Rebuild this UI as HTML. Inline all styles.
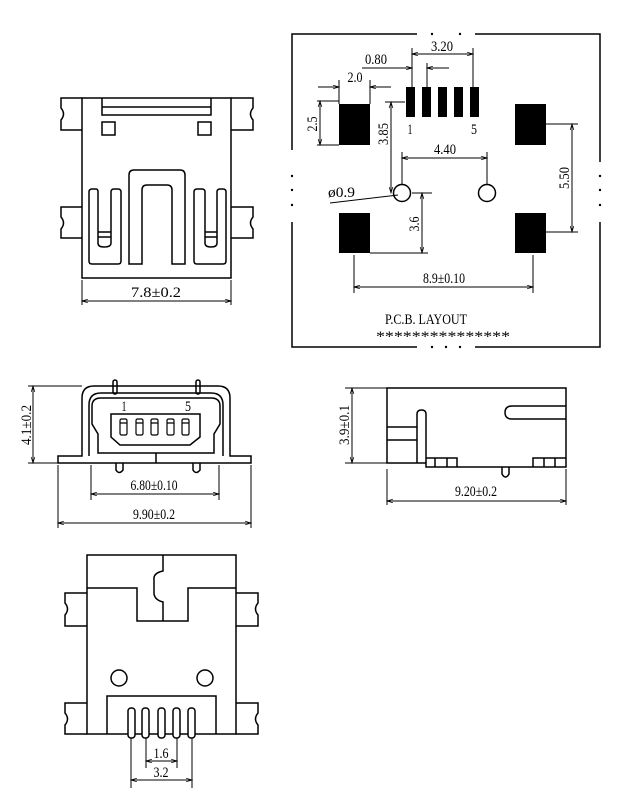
<!DOCTYPE html>
<html><head><meta charset="utf-8"><style>
html,body{margin:0;padding:0;background:#fff;width:618px;height:800px;overflow:hidden}
svg{display:block}
text{font-family:"Liberation Serif",serif;font-size:15px;fill:#000}
</style></head><body>
<svg width="618" height="800" viewBox="0 0 618 800" xmlns="http://www.w3.org/2000/svg">
<defs>
<marker id="a" viewBox="0 0 10 10" refX="10" refY="5" markerWidth="8" markerHeight="6" orient="auto-start-reverse"><path d="M0,2 L10,5 L0,8" fill="none" stroke="#000" stroke-width="1.2"/></marker>
</defs>
<g fill="none" stroke="#000" stroke-width="1.5">
<rect x="82" y="98" width="149" height="180"/>
<path d="M82,98 H61 V108 Q66,114 61,120 V130 H82"/>
<path d="M82,207 H61 V217 Q66,223 61,229 V238 H82"/>
<path d="M231,98 H253 V108 Q248,114 253,120 V130 H231"/>
<path d="M231,207 H253 V217 Q248,223 253,229 V238 H231"/>
<path d="M102,98 V115 H211 V98 M102,107 H211"/>
<rect x="102" y="122" width="13" height="13"/>
<rect x="198" y="122" width="13" height="13"/>
<path d="M129,264 V175 Q129,170 134,170 H180 Q185,170 185,175 V264 H172 V190 Q172,185 167,185 H147 Q142,185 142,190 V264 Z"/>
<path d="M92,264 Q89,264 89,261 V192 Q89,189 92,189 H96 Q98,189 98,192 V243 Q98,247 104,247 Q111,247 111,243 V192 Q111,189 114,189 H118 Q121,189 121,192 V261 Q121,264 118,264 Z"/>
<path d="M98,232 H111 M98,237 H111"/>
<path d="M197,264 Q194,264 194,261 V192 Q194,189 197,189 H202 Q205,189 205,192 V243 Q205,247 211,247 Q217,247 217,243 V192 Q217,189 220,189 H223 Q226,189 226,192 V261 Q226,264 223,264 Z"/>
<path d="M205,232 H217 M205,237 H217"/>
<path d="M82,280 V305 M231,280 V305" stroke-width="1"/>
<line x1="82" y1="301" x2="231" y2="301" stroke-width="1" marker-start="url(#a)" marker-end="url(#a)"/>
<path d="M417,34 H292 V150 M292,222 V347 H417 M475,347 H600 V222 M600,162 V34 H475"/>
</g>
<g fill="#000">
<circle cx="292" cy="176" r="1.2"/><circle cx="292" cy="190" r="1.2"/><circle cx="292" cy="205" r="1.2"/>
<circle cx="600" cy="176" r="1.2"/><circle cx="600" cy="190" r="1.2"/><circle cx="600" cy="205" r="1.2"/>
<circle cx="432" cy="347" r="1.2"/><circle cx="446" cy="347" r="1.2"/><circle cx="460" cy="347" r="1.2"/>
<circle cx="432" cy="34" r="1.2"/><circle cx="460" cy="34" r="1.2"/>
<rect x="339" y="104" width="31" height="41"/>
<rect x="515" y="104" width="31" height="41"/>
<rect x="339" y="213" width="31" height="40"/>
<rect x="515" y="213" width="31" height="40"/>
<rect x="406" y="87" width="9" height="30"/>
<rect x="422" y="87" width="9" height="30"/>
<rect x="438" y="87" width="9" height="30"/>
<rect x="454" y="87" width="9" height="30"/>
<rect x="470" y="87" width="9" height="30"/>
</g>
<g fill="none" stroke="#000" stroke-width="1">
<circle cx="402" cy="193" r="8.5" stroke-width="1.5"/>
<circle cx="487" cy="193" r="8.5" stroke-width="1.5"/>
<path d="M412,48 V87 M473,48 V87 M427,63 V87 M339,80 V104 M370,80 V104 M317,101 H339 M317,145 H339 M385,102 H405 M402,152 V185 M487,152 V185 M370,253 H428 M412,193 H432 M546,124 H578 M546,232 H578 M354,255 V293 M533,255 V293"/>
<line x1="412" y1="54" x2="473" y2="54" marker-start="url(#a)" marker-end="url(#a)"/>
<line x1="362" y1="68" x2="412" y2="68" marker-end="url(#a)"/>
<line x1="449" y1="68" x2="427" y2="68" marker-end="url(#a)"/>
<line x1="318" y1="87" x2="339" y2="87" marker-end="url(#a)"/>
<line x1="391" y1="87" x2="370" y2="87" marker-end="url(#a)"/>
<line x1="320" y1="101" x2="320" y2="145" marker-start="url(#a)" marker-end="url(#a)"/>
<line x1="391" y1="102" x2="391" y2="193" marker-start="url(#a)" marker-end="url(#a)"/>
<line x1="402" y1="158" x2="487" y2="158" marker-start="url(#a)" marker-end="url(#a)"/>
<line x1="330" y1="203" x2="398" y2="195"/>
<line x1="422" y1="193" x2="422" y2="253" marker-start="url(#a)" marker-end="url(#a)"/>
<line x1="572" y1="124" x2="572" y2="232" marker-start="url(#a)" marker-end="url(#a)"/>
<line x1="354" y1="287" x2="533" y2="287" marker-start="url(#a)" marker-end="url(#a)"/>
</g>
<g fill="none" stroke="#000" stroke-width="1.5">
<path d="M88,463 H58 V456 H82 V398 Q82,386 94,386 H218 Q230,386 230,398 V456 H251 V463 H222"/>
<path d="M88,463 H222"/>
<path d="M89,456 V430 L89,405 Q89,393 101,393 H211 Q223,393 223,405 V456"/>
<path d="M98,453 V434 L92,424 V406 Q92,398 101,398 H211 Q220,398 220,406 V424 L214,434 V453 Z"/>
<path d="M156,453 V463"/>
<path d="M111,414 H200 V437 L190,445 H120 L111,437 Z"/>
<rect x="113" y="380" width="4" height="14" rx="2"/>
<rect x="196" y="380" width="4" height="14" rx="2"/>
<path d="M116,463 V470 Q119,475 123,470 V463 M193,463 V470 Q196,475 200,470 V463"/>
</g>
<g fill="none" stroke="#000" stroke-width="1.2">
<rect x="120" y="419" width="7" height="16" rx="1.5"/>
<rect x="136" y="419" width="7" height="16" rx="1.5"/>
<rect x="151" y="419" width="7" height="16" rx="1.5"/>
<rect x="167" y="419" width="7" height="16" rx="1.5"/>
<rect x="182" y="419" width="7" height="16" rx="1.5"/>
<path d="M120,423 H127 M136,423 H143 M151,423 H158 M167,423 H174 M182,423 H189"/>
</g>
<g fill="none" stroke="#000" stroke-width="1">
<path d="M28,386 H82 M28,463 H58 M91,465 V500 M219,465 V500 M58,465 V528 M251,465 V528"/>
<line x1="33" y1="386" x2="33" y2="463" marker-start="url(#a)" marker-end="url(#a)"/>
<line x1="91" y1="494" x2="219" y2="494" marker-start="url(#a)" marker-end="url(#a)"/>
<line x1="58" y1="523" x2="251" y2="523" marker-start="url(#a)" marker-end="url(#a)"/>
</g>
<g fill="none" stroke="#000" stroke-width="1.5">
<path d="M387,463 V388 H566 V467 H426 V463 Z"/>
<path d="M387,427 H417 M387,440 H417"/>
<path d="M417,463 V414 Q417,410 421.5,410 Q426,410 426,414 V463"/>
<path d="M566,406 H512 Q505,406 505,412.5 Q505,419 512,419 H566"/>
<path d="M426,458 H457 V467 M435,458 V467 M447,458 V467"/>
<path d="M533,467 V458 H566 M544,458 V467 M555,458 V467"/>
<path d="M502,467 V474 Q505.5,480 509,474 V467"/>
</g>
<g fill="none" stroke="#000" stroke-width="1">
<path d="M345,388 H387 M345,463 H387 M387,469 V505 M566,469 V505"/>
<line x1="352" y1="388" x2="352" y2="463" marker-start="url(#a)" marker-end="url(#a)"/>
<line x1="387" y1="501" x2="566" y2="501" marker-start="url(#a)" marker-end="url(#a)"/>
</g>
<g fill="none" stroke="#000" stroke-width="1.5">
<rect x="87" y="555" width="149" height="179"/>
<path d="M87,588 H137 V621 H188 V588 H236"/>
<path d="M163,555 V571 Q153,573 154,580 V594 Q155,600 163,602 V621"/>
<path d="M87,593 H65 V603 Q70,609 65,615 V626 H87"/>
<path d="M87,703 H65 V713 Q70,719 65,725 V734 H87"/>
<path d="M236,593 H258 V603 Q253,609 258,615 V626 H236"/>
<path d="M236,703 H258 V713 Q253,719 258,725 V734 H236"/>
<circle cx="119" cy="678" r="8"/>
<circle cx="205" cy="678" r="8"/>
<path d="M107,734 V696 H216 V734"/>
<rect x="128" y="708" width="7" height="30" rx="3" fill="#fff"/>
<rect x="142" y="708" width="7" height="30" rx="3" fill="#fff"/>
<rect x="158" y="708" width="7" height="30" rx="3" fill="#fff"/>
<rect x="173" y="708" width="7" height="30" rx="3" fill="#fff"/>
<rect x="188" y="708" width="7" height="30" rx="3" fill="#fff"/>
</g>
<g fill="none" stroke="#000" stroke-width="1">
<path d="M131,738 V788 M192,738 V788 M146,738 V768 M177,738 V768"/>
<line x1="146" y1="761" x2="177" y2="761" marker-start="url(#a)" marker-end="url(#a)"/>
<line x1="131" y1="780" x2="192" y2="780" marker-start="url(#a)" marker-end="url(#a)"/>
</g>
<text x="156" y="297" text-anchor="middle" textLength="50" lengthAdjust="spacingAndGlyphs">7.8±0.2</text>
<text x="442" y="51" text-anchor="middle" textLength="22" lengthAdjust="spacingAndGlyphs">3.20</text>
<text x="376" y="64" text-anchor="middle" textLength="22" lengthAdjust="spacingAndGlyphs">0.80</text>
<text x="355" y="82" text-anchor="middle" textLength="15" lengthAdjust="spacingAndGlyphs">2.0</text>
<text x="410" y="134" text-anchor="middle" textLength="5" lengthAdjust="spacingAndGlyphs">1</text>
<text x="474" y="134" text-anchor="middle" textLength="6" lengthAdjust="spacingAndGlyphs">5</text>
<text x="445" y="154" text-anchor="middle" textLength="22" lengthAdjust="spacingAndGlyphs">4.40</text>
<text x="328" y="197" textLength="27" lengthAdjust="spacingAndGlyphs">ø0.9</text>
<text transform="translate(317,124) rotate(-90)" text-anchor="middle" textLength="15" lengthAdjust="spacingAndGlyphs">2.5</text>
<text transform="translate(388,134) rotate(-90)" text-anchor="middle" textLength="22" lengthAdjust="spacingAndGlyphs">3.85</text>
<text transform="translate(419,224) rotate(-90)" text-anchor="middle" textLength="15" lengthAdjust="spacingAndGlyphs">3.6</text>
<text transform="translate(569,178) rotate(-90)" text-anchor="middle" textLength="22" lengthAdjust="spacingAndGlyphs">5.50</text>
<text x="444" y="283" text-anchor="middle" textLength="42" lengthAdjust="spacingAndGlyphs">8.9±0.10</text>
<text x="426" y="324" text-anchor="middle" textLength="82" lengthAdjust="spacingAndGlyphs">P.C.B. LAYOUT</text>
<text x="443" y="341" text-anchor="middle" textLength="134" lengthAdjust="spacingAndGlyphs">***************</text>
<text x="124" y="411" text-anchor="middle" textLength="5" lengthAdjust="spacingAndGlyphs">1</text>
<text x="188" y="411" text-anchor="middle" textLength="6" lengthAdjust="spacingAndGlyphs">5</text>
<text transform="translate(31,425) rotate(-90)" text-anchor="middle" textLength="40" lengthAdjust="spacingAndGlyphs">4.1±0.2</text>
<text x="154" y="490" text-anchor="middle" textLength="47" lengthAdjust="spacingAndGlyphs">6.80±0.10</text>
<text x="154" y="519" text-anchor="middle" textLength="42" lengthAdjust="spacingAndGlyphs">9.90±0.2</text>
<text transform="translate(349,425) rotate(-90)" text-anchor="middle" textLength="40" lengthAdjust="spacingAndGlyphs">3.9±0.1</text>
<text x="476" y="496" text-anchor="middle" textLength="42" lengthAdjust="spacingAndGlyphs">9.20±0.2</text>
<text x="161" y="758" text-anchor="middle" textLength="15" lengthAdjust="spacingAndGlyphs">1.6</text>
<text x="161" y="777" text-anchor="middle" textLength="15" lengthAdjust="spacingAndGlyphs">3.2</text>
</svg>
</body></html>
